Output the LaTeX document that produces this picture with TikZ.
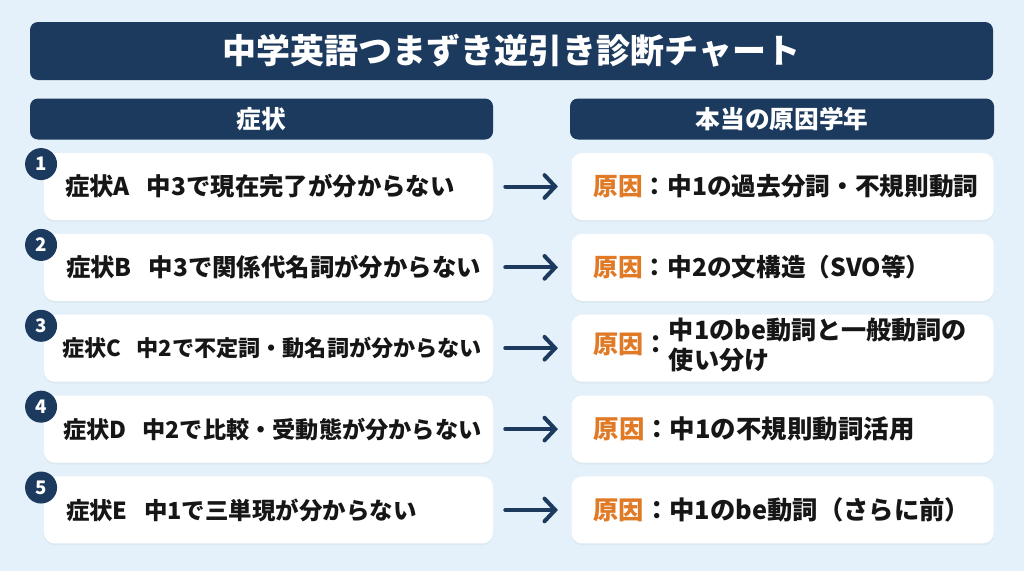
\documentclass[tikz,border=0pt]{standalone}
\usepackage{fontspec}
\setmainfont{Noto Sans CJK JP}
\usetikzlibrary{arrows.meta,positioning,shadows}

\definecolor{navy}{HTML}{1C3A5E}
\definecolor{causeorange}{HTML}{E07A26}
\definecolor{bgblue}{HTML}{E5F1FA}
\definecolor{inkblack}{HTML}{161616}

\begin{document}
\begin{tikzpicture}[
    x=0.75pt, y=-0.75pt,
    bar/.style={fill=navy, rounded corners=6pt, text=white, inner sep=0pt,
        font=\bfseries\fontsize{18.5}{22}\selectfont},
    card/.style={fill=white, rounded corners=8pt, inner sep=0pt, minimum height=50.25pt,
        drop shadow={opacity=0.07, shadow xshift=0pt, shadow yshift=-1.5pt}},
    symcard/.style={card, minimum width=336.75pt},
    causecard/.style={card, minimum width=316.5pt},
    cardtext/.style={inner sep=0pt, text=inkblack, align=left,
        font=\bfseries\fontsize{#1}{22}\selectfont},
    cardtext/.default=18.5,
    num/.style={circle, fill=navy, text=white, inner sep=0pt, minimum size=24pt,
        font=\bfseries\fontsize{14}{14}\selectfont},
    flow/.style={draw=navy, line width=3pt, line cap=round,
        -{Straight Barb[length=8pt, width=17pt, line cap=round]},
        shorten <=9pt, shorten >=10pt},
    node distance=10pt
]
\fill[bgblue] (0,0) rectangle (1024,571);

% title and column heads
\node[bar, minimum width=722.25pt, minimum height=43.5pt,
    font=\bfseries\fontsize{25.5}{30}\selectfont] (title) at (511.5,51)
    {中学英語つまずき逆引き診断チャート};
\node[bar, minimum width=347.25pt, minimum height=30.75pt] (symhead) at (261.5,119) {症状};
\node[bar, minimum width=318pt, minimum height=30.75pt] (causehead) at (782,119) {本当の原因学年};

% cards
\node[symcard] (sym1) at (268.5,186.5) {};
\node[symcard, below=of sym1] (sym2) {};
\node[symcard, below=of sym2] (sym3) {};
\node[symcard, below=of sym3] (sym4) {};
\node[symcard, below=of sym4] (sym5) {};
\foreach \i in {1,...,5} {
    \node[causecard, right=58.5pt of sym\i] (cause\i) {};
    \node[num] (num\i) at ([xshift=-2pt, yshift=-8.5pt]sym\i.north west) {\i};
    \draw[flow] (sym\i) -- (cause\i);
}

% symptoms
\node[cardtext=18.3, right=15.75pt of sym1.west] (symtext1) {症状A\hspace{0.7em}中3で現在完了が分からない};
\node[cardtext=18.3, right=16.5pt of sym2.west] (symtext2) {症状B\hspace{0.7em}中3で関係代名詞が分からない};
\node[cardtext=16.6, right=13.5pt of sym3.west] (symtext3) {症状C\hspace{0.7em}中2で不定詞・動名詞が分からない};
\node[cardtext=17.4, right=14.25pt of sym4.west] (symtext4) {症状D\hspace{0.7em}中2で比較・受動態が分からない};
\node[cardtext=17.6, right=16.5pt of sym5.west] (symtext5) {症状E\hspace{0.7em}中1で三単現が分からない};

% causes
\node[cardtext, right=16.5pt of cause1.west] (causetext1) {{\color{causeorange}原因}：中1の過去分詞・不規則動詞};
\node[cardtext, right=16.5pt of cause2.west] (causetext2) {{\color{causeorange}原因}：中2の文構造（SVO等）};
\node[cardtext=18.85, right=16.5pt of cause3.west] (causetext3) {{\color{causeorange}原因}：\begin{tabular}[c]{@{}l@{}}中1のbe動詞と一般動詞の\\使い分け\end{tabular}};
\node[cardtext=19.1, right=16.5pt of cause4.west] (causetext4) {{\color{causeorange}原因}：中1の不規則動詞活用};
\node[cardtext=19, right=16.5pt of cause5.west] (causetext5) {{\color{causeorange}原因}：中1のbe動詞（さらに前）};
\end{tikzpicture}
\end{document}
